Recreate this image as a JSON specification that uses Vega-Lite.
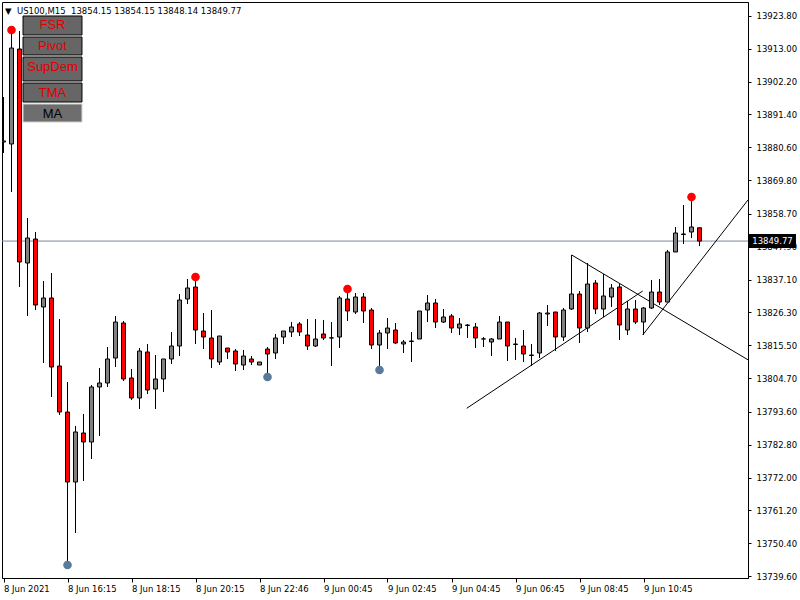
{
  "$schema": "https://vega.github.io/schema/vega-lite/v6.json",
  "width": 746,
  "height": 576,
  "autosize": "none",
  "padding": {"left": 2, "top": 2, "right": 52, "bottom": 22},
  "background": "white",
  "config": {
    "view": {"stroke": "black", "strokeWidth": 1},
    "scale": {"continuousPadding": 0},
    "axis": {"grid": false, "labelFont": "DejaVu Sans", "labelFontSize": 8.5, "labelColor": "black", "tickColor": "black", "domainColor": "black", "title": null, "labelOverlap": false, "labelFlush": false}
  },
  "title": {"text": "▼\u00a0\u00a0US100,M15\u00a0\u00a013854.15 13854.15 13848.14 13849.77", "anchor": "start", "frame": "group", "orient": "top", "offset": 0, "dy": 13, "dx": 3, "font": "DejaVu Sans", "fontSize": 8.5, "fontWeight": "normal", "color": "black"},
  "datasets": {
    "candles": [
      {"i":0,"o":13882.36,"h":13897.16,"l":13878.74,"c":13882.69},
      {"i":1,"o":13881.70,"h":13918.86,"l":13865.91,"c":13913.27},
      {"i":2,"o":13912.94,"h":13918.86,"l":13834.67,"c":13842.89},
      {"i":3,"o":13842.56,"h":13857.36,"l":13825.13,"c":13850.78},
      {"i":4,"o":13850.45,"h":13852.76,"l":13827.10,"c":13828.75},
      {"i":5,"o":13828.09,"h":13836.64,"l":13809.67,"c":13831.05},
      {"i":6,"o":13831.05,"h":13839.27,"l":13798.49,"c":13808.35},
      {"i":7,"o":13808.68,"h":13824.14,"l":13792.57,"c":13793.55},
      {"i":8,"o":13793.55,"h":13803.42,"l":13743.23,"c":13770.53},
      {"i":9,"o":13770.53,"h":13788.95,"l":13753.76,"c":13786.98},
      {"i":10,"o":13786.65,"h":13792.90,"l":13770.86,"c":13783.69},
      {"i":11,"o":13783.69,"h":13802.43,"l":13778.10,"c":13801.78},
      {"i":12,"o":13801.78,"h":13808.02,"l":13785.66,"c":13803.09},
      {"i":13,"o":13803.09,"h":13814.93,"l":13801.78,"c":13810.99},
      {"i":14,"o":13811.31,"h":13825.13,"l":13808.35,"c":13823.15},
      {"i":15,"o":13822.83,"h":13823.48,"l":13803.75,"c":13804.41},
      {"i":16,"o":13804.74,"h":13807.70,"l":13797.50,"c":13798.16},
      {"i":17,"o":13798.16,"h":13814.60,"l":13794.54,"c":13813.62},
      {"i":18,"o":13813.29,"h":13815.92,"l":13799.47,"c":13800.79},
      {"i":19,"o":13801.12,"h":13812.30,"l":13794.54,"c":13804.41},
      {"i":20,"o":13804.41,"h":13810.99,"l":13800.13,"c":13810.99},
      {"i":21,"o":13810.99,"h":13819.87,"l":13809.34,"c":13815.26},
      {"i":22,"o":13815.26,"h":13832.36,"l":13811.97,"c":13830.39},
      {"i":23,"o":13830.72,"h":13837.30,"l":13829.07,"c":13834.34},
      {"i":24,"o":13834.67,"h":13837.95,"l":13815.92,"c":13820.52},
      {"i":25,"o":13820.19,"h":13826.11,"l":13814.27,"c":13818.22},
      {"i":26,"o":13817.89,"h":13827.10,"l":13808.02,"c":13810.99},
      {"i":27,"o":13810.00,"h":13818.55,"l":13809.01,"c":13818.55},
      {"i":28,"o":13814.60,"h":13814.60,"l":13810.99,"c":13813.29},
      {"i":29,"o":13813.62,"h":13814.27,"l":13807.04,"c":13809.34},
      {"i":30,"o":13809.01,"h":13813.95,"l":13807.37,"c":13811.97},
      {"i":31,"o":13810.99,"h":13811.97,"l":13809.01,"c":13810.00},
      {"i":32,"o":13809.01,"h":13810.00,"l":13809.01,"c":13810.00},
      {"i":33,"o":13814.27,"h":13814.93,"l":13805.07,"c":13812.63},
      {"i":34,"o":13812.96,"h":13819.21,"l":13810.99,"c":13817.89},
      {"i":35,"o":13818.22,"h":13820.19,"l":13815.92,"c":13820.19},
      {"i":36,"o":13819.87,"h":13823.15,"l":13818.22,"c":13821.51},
      {"i":37,"o":13822.50,"h":13823.15,"l":13818.55,"c":13819.87},
      {"i":38,"o":13818.88,"h":13824.14,"l":13813.95,"c":13815.26},
      {"i":39,"o":13815.26,"h":13824.14,"l":13814.93,"c":13817.56},
      {"i":40,"o":13819.21,"h":13823.81,"l":13817.23,"c":13817.89},
      {"i":41,"o":13817.89,"h":13823.15,"l":13808.68,"c":13817.95},
      {"i":42,"o":13818.22,"h":13831.71,"l":13814.60,"c":13831.05},
      {"i":43,"o":13830.72,"h":13834.01,"l":13823.48,"c":13826.77},
      {"i":44,"o":13826.44,"h":13832.69,"l":13825.79,"c":13831.38},
      {"i":45,"o":13831.38,"h":13832.69,"l":13822.83,"c":13826.77},
      {"i":46,"o":13827.10,"h":13827.76,"l":13814.27,"c":13815.59},
      {"i":47,"o":13815.59,"h":13820.52,"l":13807.37,"c":13819.54},
      {"i":48,"o":13819.54,"h":13824.47,"l":13814.27,"c":13821.18},
      {"i":49,"o":13820.52,"h":13822.83,"l":13815.92,"c":13816.25},
      {"i":50,"o":13815.92,"h":13817.23,"l":13812.96,"c":13816.58},
      {"i":51,"o":13816.74,"h":13819.87,"l":13810.00,"c":13816.91},
      {"i":52,"o":13817.56,"h":13826.77,"l":13817.56,"c":13826.77},
      {"i":53,"o":13827.10,"h":13832.03,"l":13823.15,"c":13829.40},
      {"i":54,"o":13829.40,"h":13830.72,"l":13821.18,"c":13823.15},
      {"i":55,"o":13823.15,"h":13827.43,"l":13822.83,"c":13824.80},
      {"i":56,"o":13825.13,"h":13825.79,"l":13819.54,"c":13821.18},
      {"i":57,"o":13821.18,"h":13824.47,"l":13818.88,"c":13822.50},
      {"i":58,"o":13822.00,"h":13822.50,"l":13817.89,"c":13822.17},
      {"i":59,"o":13821.51,"h":13822.83,"l":13814.60,"c":13817.89},
      {"i":60,"o":13817.56,"h":13818.22,"l":13814.93,"c":13817.60},
      {"i":61,"o":13816.58,"h":13817.89,"l":13811.97,"c":13817.56},
      {"i":62,"o":13817.56,"h":13825.13,"l":13817.56,"c":13823.15},
      {"i":63,"o":13823.15,"h":13823.15,"l":13810.33,"c":13815.26},
      {"i":64,"o":13815.75,"h":13817.89,"l":13810.66,"c":13815.92},
      {"i":65,"o":13815.26,"h":13820.52,"l":13810.00,"c":13812.63},
      {"i":66,"o":13812.14,"h":13815.92,"l":13808.68,"c":13812.30},
      {"i":67,"o":13812.96,"h":13826.44,"l":13811.31,"c":13826.11},
      {"i":68,"o":13825.79,"h":13828.75,"l":13821.84,"c":13826.11},
      {"i":69,"o":13826.44,"h":13826.44,"l":13813.62,"c":13818.22},
      {"i":70,"o":13818.22,"h":13827.76,"l":13816.91,"c":13827.10},
      {"i":71,"o":13827.43,"h":13845.19,"l":13827.10,"c":13832.36},
      {"i":72,"o":13832.36,"h":13833.35,"l":13816.25,"c":13821.18},
      {"i":73,"o":13821.18,"h":13842.56,"l":13819.87,"c":13835.65},
      {"i":74,"o":13835.98,"h":13836.97,"l":13825.79,"c":13827.43},
      {"i":75,"o":13827.43,"h":13838.94,"l":13824.80,"c":13831.71},
      {"i":76,"o":13831.38,"h":13835.65,"l":13828.09,"c":13834.34},
      {"i":77,"o":13834.67,"h":13835.65,"l":13817.23,"c":13822.17},
      {"i":78,"o":13820.52,"h":13830.06,"l":13818.88,"c":13827.43},
      {"i":79,"o":13827.43,"h":13830.39,"l":13822.50,"c":13823.15},
      {"i":80,"o":13823.15,"h":13828.09,"l":13818.88,"c":13827.76},
      {"i":81,"o":13827.76,"h":13836.97,"l":13827.43,"c":13833.02},
      {"i":82,"o":13833.02,"h":13837.30,"l":13828.75,"c":13829.73},
      {"i":83,"o":13829.73,"h":13846.84,"l":13829.73,"c":13846.18},
      {"i":84,"o":13846.18,"h":13854.40,"l":13846.18,"c":13852.43},
      {"i":85,"o":13851.93,"h":13861.64,"l":13848.81,"c":13852.10},
      {"i":86,"o":13852.76,"h":13864.27,"l":13850.78,"c":13854.40},
      {"i":87,"o":13854.15,"h":13854.15,"l":13848.14,"c":13849.77}
    ],
    "fractals": [
      {"i":1,"p":13919.19,"kind":"high"},
      {"i":24,"p":13837.95,"kind":"high"},
      {"i":43,"p":13834.01,"kind":"high"},
      {"i":86,"p":13864.27,"kind":"high"},
      {"i":8,"p":13743.23,"kind":"low"},
      {"i":33,"p":13805.07,"kind":"low"},
      {"i":47,"p":13807.37,"kind":"low"}
    ],
    "trendlines": [
      {"i1":57.9,"p1":13794.77,"i2":79.9,"p2":13833.35},
      {"i1":71.03,"p1":13845.19,"i2":93.06,"p2":13810.72},
      {"i1":79.9,"p1":13818.88,"i2":93.06,"p2":13863.28}
    ],
    "buttons": [
      {"b":"FSR","x1":2.44,"x2":9.81,"p1":13923.80,"p2":13917.55},
      {"b":"Pivot","x1":2.44,"x2":9.81,"p1":13916.89,"p2":13910.97},
      {"b":"SupDem","x1":2.44,"x2":9.81,"p1":13910.31,"p2":13902.42},
      {"b":"TMA","x1":2.44,"x2":9.81,"p1":13901.76,"p2":13895.51},
      {"b":"MA","x1":2.44,"x2":9.81,"p1":13894.85,"p2":13888.93}
    ],
    "last": [{"price":13849.77}]
  },
  "layer": [
    {
      "data": {"name": "last"},
      "mark": {"type": "rule", "color": "#7a8899", "strokeWidth": 1},
      "encoding": {
        "y": {"field": "price", "type": "quantitative", "scale": {"domain": [13738.96, 13928.40], "nice": false, "zero": false, "padding": 0},
          "axis": {"orient": "right", "values": [13923.80,13913.00,13902.20,13891.40,13880.60,13869.80,13858.70,13847.90,13837.10,13826.30,13815.50,13804.70,13793.60,13782.80,13772.00,13761.20,13750.40,13739.60], "tickCount": 40, "format": ".2f", "tickSize": 3, "labelPadding": 5, "labelAlign": "left", "labelOverlap": false, "labelFlush": false, "title": null}}
      }
    },
    {
      "data": {"name": "trendlines"},
      "mark": {"type": "rule", "color": "black", "strokeWidth": 1, "clip": true},
      "encoding": {
        "x": {"field": "i1", "type": "quantitative"},
        "x2": {"field": "i2"},
        "y": {"field": "p1", "type": "quantitative"},
        "y2": {"field": "p2"}
      }
    },
    {
      "data": {"name": "candles"},
      "mark": {"type": "rule", "color": "black", "strokeWidth": 1, "clip": true},
      "encoding": {
        "x": {"field": "i", "type": "quantitative", "scale": {"domain": [-0.1875, 93.0625], "nice": false, "zero": false, "padding": 0},
          "axis": {"values": [0,8,16,24,32,40,48,56,64,72,80], "tickCount": 40, "labelExpr": "['8 Jun 2021','8 Jun 16:15','8 Jun 18:15','8 Jun 20:15','8 Jun 22:46','9 Jun 00:45','9 Jun 02:45','9 Jun 04:45','9 Jun 06:45','9 Jun 08:45','9 Jun 10:45'][round(datum.value/8)]", "labelAlign": "left", "labelFlush": false, "labelOverlap": false, "tickSize": 4, "labelPadding": 2, "title": null}},
        "y": {"field": "l", "type": "quantitative"},
        "y2": {"field": "h"}
      }
    },
    {
      "data": {"name": "candles"},
      "mark": {"type": "bar", "size": 4, "stroke": "black", "strokeWidth": 1, "clip": true},
      "encoding": {
        "x": {"field": "i", "type": "quantitative"},
        "y": {"field": "o", "type": "quantitative"},
        "y2": {"field": "c"},
        "color": {"condition": {"test": "datum.c < datum.o", "value": "#ff0000"}, "value": "#808080"}
      }
    },
    {
      "data": {"name": "fractals"},
      "mark": {"type": "point", "filled": true, "size": 75, "opacity": 1, "shape": "circle"},
      "encoding": {
        "x": {"field": "i", "type": "quantitative"},
        "y": {"field": "p", "type": "quantitative"},
        "color": {"field": "kind", "type": "nominal", "scale": {"domain": ["high", "low"], "range": ["#ff0000", "#5b7a99"]}, "legend": null}
      }
    },
    {
      "data": {"name": "buttons"},
      "mark": {"type": "rect", "strokeWidth": 1},
      "encoding": {
        "x": {"field": "x1", "type": "quantitative"},
        "x2": {"field": "x2"},
        "y": {"field": "p1", "type": "quantitative"},
        "y2": {"field": "p2"},
        "color": {"condition": {"test": "datum.b === 'MA'", "value": "#6e6e6e"}, "value": "#666666"},
        "stroke": {"condition": {"test": "datum.b === 'MA'", "value": "#d0d0d0"}, "value": "black"}
      }
    },
    {
      "data": {"name": "buttons"},
      "mark": {"type": "text", "font": "Liberation Sans", "fontSize": 13, "align": "center", "baseline": "middle"},
      "encoding": {
        "x": {"datum": 6.125},
        "y": {"field": "p1", "type": "quantitative"},
        "yOffset": {"condition": {"test": "datum.b === 'SupDem'", "value": 12}, "value": 9.5},
        "text": {"field": "b"},
        "color": {"condition": {"test": "datum.b === 'MA'", "value": "black"}, "value": "#e00000"}
      }
    },
    {
      "data": {"name": "last"},
      "mark": {"type": "rect", "color": "black"},
      "encoding": {
        "x": {"datum": 93.19},
        "x2": {"datum": 99.06},
        "y": {"datum": 13852.10},
        "y2": {"datum": 13847.49}
      }
    },
    {
      "data": {"name": "last"},
      "mark": {"type": "text", "color": "white", "font": "DejaVu Sans", "fontSize": 8.5, "align": "center", "baseline": "middle"},
      "encoding": {
        "x": {"datum": 96.125},
        "y": {"field": "price", "type": "quantitative"},
        "text": {"field": "price", "type": "quantitative", "format": ".2f"}
      }
    }
  ]
}
